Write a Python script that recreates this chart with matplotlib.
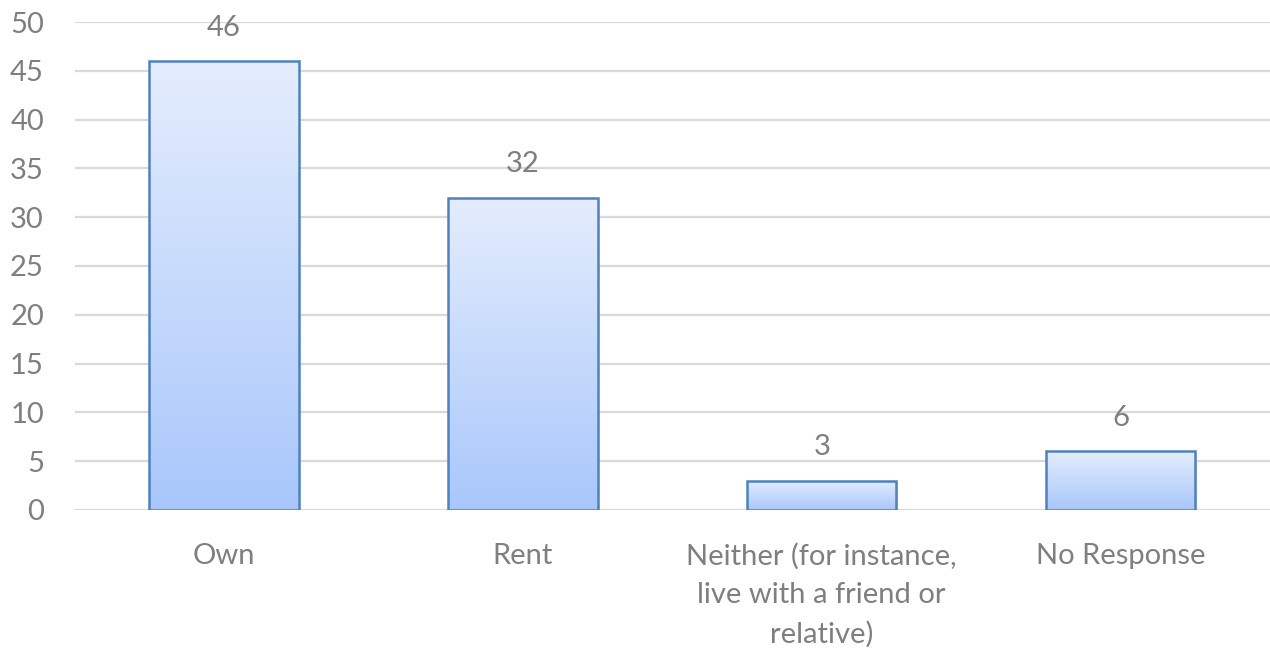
import numpy as np
import matplotlib
matplotlib.use("Agg")
import matplotlib.pyplot as plt
from matplotlib.colors import LinearSegmentedColormap

plt.rcParams['font.family'] = ['Lato', 'DejaVu Sans']

categories = ["Own", "Rent", "Neither (for instance,\nlive with a friend or\nrelative)", "No Response"]
counts = [46, 32, 3, 6]
yticks = [0, 5, 10, 15, 20, 25, 30, 35, 40, 45, 50]

text_color = "#7F7F7F"
grid_color = "#D9D9D9"
edge_color = "#4F81BD"
grad = LinearSegmentedColormap.from_list("bar_grad", ["#A9C7FB", "#E4EDFD"])
fs = 21

fig = plt.figure(figsize=(12.7, 6.49), dpi=100)
ax = fig.add_axes([0.0587, 0.2142, 0.9413, 0.7519])

x = np.arange(len(categories))
ax.set_xlim(-0.5, len(categories) - 0.5)
ax.set_ylim(0, 50)

ax.set_yticks(yticks)
ax.yaxis.grid(True, color=grid_color, linewidth=1.6)
ax.set_axisbelow(True)
for s in ax.spines.values():
    s.set_visible(False)
ax.tick_params(axis='y', length=0, pad=22, labelsize=fs, labelcolor=text_color)
ax.tick_params(axis='x', length=0, pad=23.5, labelsize=fs, labelcolor=text_color)
ax.set_xticks(x)
ax.set_xticklabels(categories, linespacing=1.6)

bars = ax.bar(x, counts, width=0.5, facecolor="none", edgecolor=edge_color,
              linewidth=1.8, zorder=3)

gradient = np.linspace(0, 1, 256).reshape(-1, 1)
for bar, val in zip(bars, counts):
    x0 = bar.get_x()
    w = bar.get_width()
    # soft drop shadow
    ax.bar(x0 + w / 2 + 0.006, val, width=w, bottom=-0.25, color="#000000",
           alpha=0.12, linewidth=0, zorder=1.5)
    im = ax.imshow(gradient, cmap=grad, origin="lower", aspect="auto",
                   extent=[x0, x0 + w, 0, val], zorder=2)
    im.set_clip_path(bar)
    ax.text(x0 + w / 2, val + 2.1, f"{val}", ha="center", va="bottom",
            fontsize=fs, color=text_color, clip_on=False)

ax.set_xlim(-0.5, len(categories) - 0.5)
ax.set_ylim(0, 50)

fig.savefig("out.png", dpi=100, facecolor="white")
